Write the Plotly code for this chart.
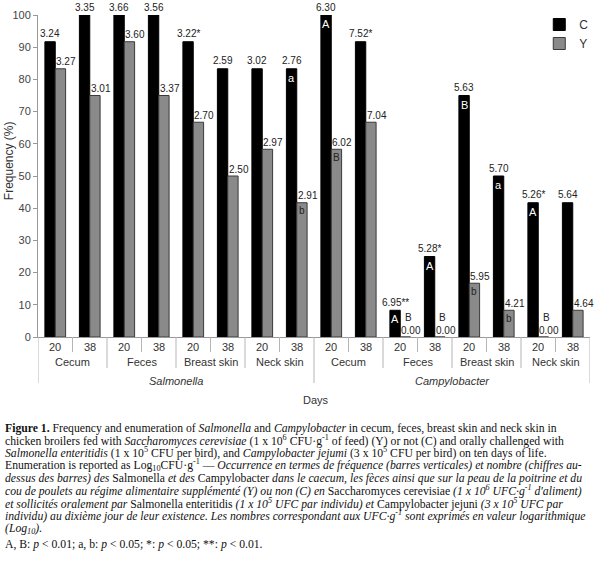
import numpy as np
import plotly.graph_objects as go

# ---------------- data ----------------
pathogens = ["Salmonella", "Campylobacter"]
organs = ["Cecum", "Feces", "Breast skin", "Neck skin"]
days = ["20", "38"]

freq_C = [91.7, 100, 100, 100, 91.7, 83.3, 83.3, 83.3,
          100, 91.7, 8.3, 25.0, 75.0, 50.0, 41.7, 41.7]
freq_Y = [83.3, 75.0, 91.7, 75.0, 66.7, 50.0, 58.3, 41.7,
          58.3, 66.7, 0.0, 0.0, 16.7, 8.3, 0.0, 8.3]

count_C = ["3.24", "3.35", "3.66", "3.56", "3.22*", "2.59", "3.02", "2.76",
           "6.30", "7.52*", "6.95**", "5.28*", "5.63", "5.70", "5.26*", "5.64"]
count_Y = ["3.27", "3.01", "3.60", "3.37", "2.70", "2.50", "2.97", "2.91",
           "6.02", "7.04", "0.00", "0.00", "5.95", "4.21", "0.00", "4.64"]

letters_C = ["", "", "", "", "", "", "", "a",
             "A", "", "A", "A", "B", "a", "A", ""]
letters_Y = ["", "", "", "", "", "", "", "b",
             "B", "", "B", "B", "b", "b", "B", ""]

yticks = [0, 10, 20, 30, 40, 50, 60, 70, 80, 90, 100]

caption_lines = [
    "<b>Figure 1.</b> Frequency and enumeration of <i>Salmonella</i> and <i>Campylobacter</i> in cecum, feces, breast skin and neck skin in",
    "chicken broilers fed with <i>Saccharomyces cerevisiae</i> (1 x 10<sup>6</sup> CFU·g<sup>-1</sup> of feed) (Y) or not (C) and orally challenged with",
    "<i>Salmonella enteritidis</i> (1 x 10<sup>5</sup> CFU per bird), and <i>Campylobacter jejumi</i> (3 x 10<sup>5</sup> CFU per bird) on ten days of life.",
    "Enumeration is reported as Log<sub>10</sub>CFU·g<sup>-1</sup> — <i>Occurrence en termes de fréquence (barres verticales) et nombre (chiffres au-</i>",
    "<i>dessus des barres) des</i> Salmonella <i>et des</i> Campylobacter <i>dans le caecum, les fèces ainsi que sur la peau de la poitrine et du</i>",
    "<i>cou de poulets au régime alimentaire supplémenté (Y) ou non (C) en</i> Saccharomyces cerevisiae <i>(1 x 10<sup>6</sup> UFC·g<sup>-1</sup> d'aliment)</i>",
    "<i>et sollicités oralement par</i> Salmonella enteritidis <i>(1 x 10<sup>5</sup> UFC par individu) et</i> Campylobacter jejuni <i>(3 x 10<sup>5</sup> UFC par</i>",
    "<i>individu) au dixième jour de leur existence. Les nombres correspondant aux UFC·g<sup>-1</sup> sont exprimés en valeur logarithmique</i>",
    "<i>(Log<sub>10</sub>).</i>",
]
footnote = "A, B: <i>p</i> &lt; 0.01; a, b: <i>p</i> &lt; 0.05; *: <i>p</i> &lt; 0.05; **: <i>p</i> &lt; 0.01."

# ---------------- layout constants ----------------
W, H = 600, 561
ML, MR, MT, MB = 38, 7, 15, 224
PW, PH = W - ML - MR, H - MT - MB
BARGAP = 0.4
SANS = "Liberation Sans, Arial, sans-serif"
SERIF = "Liberation Serif, Times New Roman, serif"


def px_x(px):
    return (px - ML) / PW


def px_y(py):
    return (H - MB - py) / PH


n_days, n_org = len(days), len(organs)
n = len(pathogens) * n_org * n_days
x_idx = np.arange(n)
half = (1 - BARGAP) / 4  # centre offset of each bar in a pair

fig = go.Figure()
fig.add_trace(go.Bar(x=x_idx, y=freq_C, name="C",
                     marker=dict(color="#000000", line=dict(color="#000000", width=1))))
fig.add_trace(go.Bar(x=x_idx, y=freq_Y, name="Y",
                     marker=dict(color="#8a8a8a", line=dict(color="#3a3a3a", width=1))))

ann = []
# value labels and letters
for i in range(n):
    xc = x_idx[i] - half
    xy = x_idx[i] + half
    ann.append(dict(x=xc, y=freq_C[i], xref="x", yref="y", text=count_C[i],
                    showarrow=False, yshift=8, font=dict(size=10, color="#222", family=SANS)))
    ann.append(dict(x=xy, y=freq_Y[i], xref="x", yref="y", text=count_Y[i],
                    showarrow=False, yshift=7, xshift=6, font=dict(size=10, color="#222", family=SANS)))
    if letters_C[i]:
        ann.append(dict(x=xc, y=freq_C[i], xref="x", yref="y", text=letters_C[i],
                        showarrow=False, yshift=-9, font=dict(size=11, color="#ffffff", family=SANS)))
    if letters_Y[i]:
        if freq_Y[i] > 0:
            ann.append(dict(x=xy, y=freq_Y[i], xref="x", yref="y", text=letters_Y[i],
                            showarrow=False, yshift=-8, font=dict(size=10, color="#222", family=SANS)))
        else:
            ann.append(dict(x=xy, y=freq_Y[i], xref="x", yref="y", text=letters_Y[i],
                            showarrow=False, yshift=20, xshift=3, font=dict(size=10, color="#222", family=SANS)))

# hierarchical x-axis labels
shapes = []
sep_col = "#b5b5b5"
for i in range(n):
    ann.append(dict(x=x_idx[i], y=px_y(347), xref="x", yref="paper", text=days[i % n_days],
                    showarrow=False, yanchor="middle",
                    font=dict(size=11, color="#333", family=SANS)))
for p in range(len(pathogens)):
    for o in range(n_org):
        start = (p * n_org + o) * n_days
        ann.append(dict(x=start + (n_days - 1) / 2, y=px_y(362), xref="x", yref="paper",
                        text=organs[o], showarrow=False, yanchor="middle",
                        font=dict(size=11, color="#333", family=SANS)))
        for d in range(1, n_days):
            shapes.append(dict(type="line", xref="x", yref="paper", x0=start + d - 0.5, x1=start + d - 0.5,
                               y0=0, y1=px_y(352), line=dict(color=sep_col, width=1)))
        if o > 0:
            shapes.append(dict(type="line", xref="x", yref="paper", x0=start - 0.5, x1=start - 0.5,
                               y0=0, y1=px_y(368), line=dict(color=sep_col, width=1)))
    pstart = p * n_org * n_days
    ann.append(dict(x=pstart + (n_org * n_days - 1) / 2, y=px_y(381), xref="x", yref="paper",
                    text="<i>" + pathogens[p] + "</i>", showarrow=False, yanchor="middle",
                    font=dict(size=11, color="#333", family=SANS)))
for b in range(len(pathogens) + 1):
    xb = b * n_org * n_days - 0.5
    shapes.append(dict(type="line", xref="x", yref="paper", x0=xb, x1=xb,
                       y0=0, y1=px_y(383), line=dict(color=sep_col, width=1)))

ann.append(dict(x=px_x(318), y=px_y(400), xref="paper", yref="paper", text="Days",
                showarrow=False, xanchor="center", yanchor="middle",
                font=dict(size=11, color="#333", family=SANS)))
ann.append(dict(x=px_x(9), y=px_y(161), xref="paper", yref="paper", text="Frequency (%)",
                textangle=-90, showarrow=False, xanchor="center", yanchor="middle",
                font=dict(size=12, color="#333", family=SANS)))

# caption
for k, line in enumerate(caption_lines):
    ann.append(dict(x=px_x(3), y=px_y(430 + 12.6 * k + 7), xref="paper", yref="paper", text=line,
                    xanchor="left", yanchor="bottom", showarrow=False, align="left",
                    font=dict(size=11.7, color="#111", family=SERIF)))
ann.append(dict(x=px_x(3), y=px_y(546 + 7), xref="paper", yref="paper", text=footnote,
                xanchor="left", yanchor="bottom", showarrow=False, align="left",
                font=dict(size=11.7, color="#111", family=SERIF)))

fig.update_layout(
    width=W, height=H,
    margin=dict(l=ML, r=MR, t=MT, b=MB, pad=0),
    paper_bgcolor="white", plot_bgcolor="white",
    barmode="group", bargap=BARGAP, bargroupgap=0,
    showlegend=True,
    legend=dict(x=px_x(542), y=px_y(10), xanchor="left", yanchor="top",
                font=dict(size=12, color="#333", family=SANS), bgcolor="rgba(0,0,0,0)",
                tracegroupgap=0, itemwidth=30),
    xaxis=dict(range=[-0.5, n - 0.5], showticklabels=False, ticks="", showgrid=False,
               zeroline=False, showline=True, linecolor="#999", linewidth=1, fixedrange=True),
    yaxis=dict(range=[0, 100], tickvals=yticks, ticks="outside", ticklen=4, tickcolor="#999",
               showgrid=False, zeroline=False, showline=True, linecolor="#999", linewidth=1,
               tickfont=dict(size=11, color="#444", family=SANS)),
    annotations=ann, shapes=shapes,
)

fig.write_html("out.html")
